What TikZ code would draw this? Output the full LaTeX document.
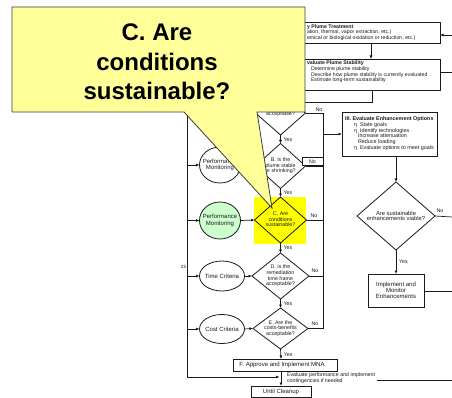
\documentclass[tikz,border=0pt]{standalone}
\usepackage{fontspec}
\setmainfont{Liberation Sans}
\usetikzlibrary{shapes.geometric,arrows.meta,calc}
\definecolor{calloutfill}{HTML}{FFFF99}
\definecolor{hilite}{HTML}{FFFF00}
\definecolor{pmgreen}{HTML}{CCFFCC}
\definecolor{ink}{HTML}{1A1A1A}
\begin{document}
\begin{tikzpicture}[x=1pt,y=-1pt,
  every node/.style={inner sep=0pt, outer sep=0pt, text=ink},
  line/.style={draw=ink, line width=0.7pt},
  arr/.style={line, -{Latex[length=3.5pt,width=3pt]}},
  box/.style={draw=ink, line width=0.8pt, fill=white, rectangle},
  dia/.style={draw=ink, line width=0.8pt, fill=white, diamond},
  oval/.style={draw=ink, line width=0.8pt, fill=white, ellipse},
  tiny/.style={font=\fontsize{5.3}{5.6}\selectfont, align=center},
  txt/.style={font=\fontsize{5.2}{5.5}\selectfont, anchor=west},
  small/.style={font=\fontsize{6}{6.2}\selectfont, align=center},
  yn/.style={font=\fontsize{5.3}{5.6}\selectfont},
]
\useasboundingbox[fill=white] (0,0) rectangle (452,398);

% ---- boxes of the upper right branch ----
\node[box, minimum width=190pt, minimum height=21pt] (treat) at (345,32.5) {};
\node[txt, font=\fontsize{5.2}{5.5}\selectfont\bfseries] (treat1) at (307,27) {y Plume Treatment};
\node[txt] (treat2) at (307,32.5) {ation, thermal, vapor extraction, etc.)};
\node[txt] (treat3) at (307,38) {emical or biological oxidation or reduction, etc.)};

\node[box, minimum width=190pt, minimum height=31pt] (stab) at (345,74.5) {};
\node[txt, font=\fontsize{5.2}{5.5}\selectfont\bfseries] (stab1) at (307,63.5) {valuate Plume Stability};
\node[txt] (stab2) at (311,69.5) {Determine plume stability};
\node[txt] (stab3) at (311,75) {Describe how plume stability is currently evaluated};
\node[txt] (stab4) at (311,80.5) {Estimate long-term sustainability};

\node[box, minimum width=95pt, minimum height=44pt] (opt) at (389.5,134) {};
\node[font=\fontsize{5.4}{5.8}\selectfont, align=left, anchor=north west] (opttext) at (345,116.5)
  {\textbf{III. Evaluate Enhancement Options}\\
   \hspace{9pt}η\hspace{3pt}State goals\\
   \hspace{9pt}η\hspace{3pt}Identify technologies\\
   \hspace{13pt}Increase attenuation\\
   \hspace{13pt}Reduce loading\\
   \hspace{9pt}η\hspace{3pt}Evaluate options to meet goals};

\node[dia, minimum width=78pt, minimum height=68pt] (S) at (396,216) {};
\node[small, font=\fontsize{5.8}{5.6}\selectfont] (Stext) at (396,216) {Are sustainable\\enhancements viable?};
\node[box, minimum width=56pt, minimum height=33pt] (impl) at (396,290.5) {};
\node[small] (impltext) at (396,290.5) {Implement and\\Monitor\\Enhancements};

% ---- decision column ----
\fill[hilite] (254,197) rectangle (306,244);
\node[dia, minimum width=50pt, minimum height=44pt] (A) at (280.5,113) {};
\node[dia, minimum width=50pt, minimum height=45pt] (B) at (280.5,166) {};
\node[dia, minimum width=52pt, minimum height=46pt, fill=hilite] (C) at (280.5,220) {};
\node[dia, minimum width=57pt, minimum height=46pt] (D) at (280.5,276) {};
\node[dia, minimum width=55pt, minimum height=41pt] (E) at (280.5,328.5) {};
\node[tiny] (Atext) at (280.5,114.5) {acceptable?};
\node[tiny] (Btext) at (280.5,166) {B. Is the\\plume stable\\or shrinking?};
\node[tiny] (Ctext) at (280.5,219.5) {C. Are\\conditions\\sustainable?};
\node[tiny] (Dtext) at (280.5,276) {D. Is the\\remediation\\time frame\\acceptable?};
\node[tiny] (Etext) at (280.5,328.5) {E. Are the\\costs-benefits\\acceptable?};

\node[box, minimum width=104pt, minimum height=12pt] (F) at (285,365) {};
\node[small] (Ftext) at (282,365) {F. Approve and Implement MNA};
\node[box, minimum width=60pt, minimum height=11pt] (until) at (281,391.5) {};
\node[small] (untiltext) at (281,391.5) {Until Cleanup};

% ---- criteria on the left ----
\node[oval, minimum width=41pt, minimum height=36pt] (PM1) at (220,165) {};
\node[small] (PM1text) at (220,165) {Performance\\Monitoring};
\node[oval, minimum width=41pt, minimum height=37pt, fill=pmgreen] (PM2) at (220,220.5) {};
\node[small] (PM2text) at (220,220.5) {Performance\\Monitoring};
\node[oval, minimum width=45pt, minimum height=30pt] (TC) at (222,276) {};
\node[small] (TCtext) at (222,276) {Time Criteria};
\node[oval, minimum width=45pt, minimum height=29pt] (CC) at (222,329) {};
\node[small] (CCtext) at (222,329) {Cost Criteria};

% ---- free ends ----
\coordinate (inR) at (452,35);
\coordinate (outS) at (452,72);
\coordinate (hidA) at (290,102);
\coordinate (ntop) at (323,113);
\coordinate (nbot) at (323,329);
\coordinate (ltop) at (187,105);
\coordinate (ev) at (279.5,377);
\coordinate (sR) at (452,217);
\coordinate (iR) at (452,291);
\coordinate (evR) at (452,380);

% ---- connectors ----
\draw[arr] (inR) -- (inR -| treat.east);
\draw[arr] ([xshift=26pt]treat.south) -- ([xshift=26pt]stab.north);
\draw[line] (stab.east |- outS) -- (outS);
\draw[line] ([xshift=27pt]stab.south) |- (hidA);

\draw[arr] (A.south) -- node[yn, right=3pt] (y1) {Yes} (B.north);
\draw[arr] (B.south) -- node[yn, right=3pt] (y2) {Yes} (C.north);
\draw[arr] (C.south) -- node[yn, right=3pt] (y3) {Yes} (D.north);
\draw[arr] (D.south) -- node[yn, right=3pt] (y4) {Yes} (E.north);
\draw[arr] (E.south) -- node[yn, right=3pt, pos=0.6] (y5) {Yes} (until.north |- F.north);

\draw[line] (A.east) -- (ntop) -- (nbot);
\draw[line] (B.east) -- (B.east -| ntop);
\draw[line] (C.east) -- (C.east -| ntop);
\draw[line] (D.east) -- (D.east -| ntop);
\draw[line] (E.east) -- (E.east -| ntop);
\node[yn] (n1) at (319,109.5) {No};
\node[box, line width=0.7pt, minimum width=21pt, minimum height=8pt] (nobox) at (312.5,161.5) {};
\node[yn] (n2) at (312.5,161.5) {No};
\node[yn] (n3) at (314,215.5) {No};
\node[yn] (n4) at (315,271) {No};
\node[yn] (n5) at (315,324) {No};
\draw[arr] (opt.west -| ntop) -- (opt.west);

\draw[arr] (S.north |- opt.south) -- (S.north);
\draw[line] (S.east) -- (sR);
\node[yn] (n6) at (440,210.5) {No};
\draw[arr] (S.south) -- node[yn, right=3pt] (y6) {Yes} (impl.north);
\draw[line] (impl.east |- iR) -- (iR);

\draw[arr] (ltop |- PM1.west) -- (PM1.west);
\draw[arr] (ltop |- PM2.west) -- (PM2.west);
\draw[arr] (ltop |- TC.west) -- (TC.west);
\draw[arr] (ltop |- CC.west) -- (CC.west);
\draw[arr] (PM2.east) -- (C.west);
\draw[arr] (TC.east) -- (D.west);
\draw[arr] (CC.east) -- (E.west);
\draw[arr] (ltop) |- (ev);
\draw[arr] (until.north |- F.south) -- (until.north);
\node[font=\fontsize{4.5}{4.5}\selectfont] (q25) at (183.5,267) {25};

\node[font=\fontsize{5.3}{5.5}\selectfont, align=left, anchor=west] (evtext) at (287,378.3)
  {Evaluate performance and implement\\contingencies if needed};
\draw[line] (evtext.east |- evR) ++(1.5pt,0) -- (evR);

% ---- callout over the chart ----
\draw[draw=ink!85, line width=0.8pt, fill=calloutfill]
  (12,7) -- (305,7) -- (305,112) -- (257,112) -- (272,208) -- (184,112) -- (12,112) -- cycle;
\node[font=\fontsize{24}{29.5}\selectfont\bfseries, align=center, text=black] (calltext) at (157,62)
  {C. Are\\conditions\\sustainable?};
\end{tikzpicture}
\end{document}
